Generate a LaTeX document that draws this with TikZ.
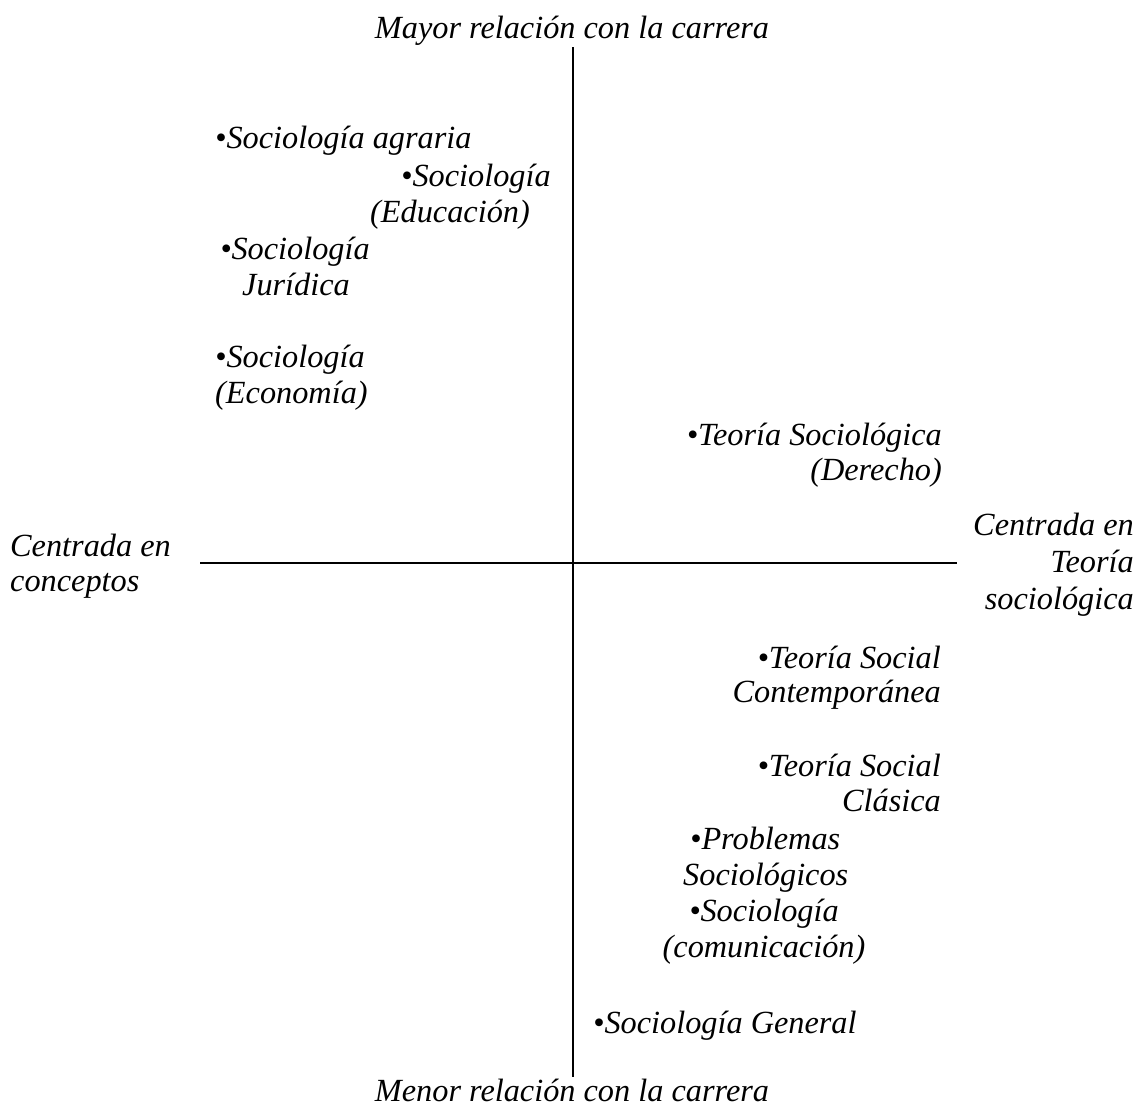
\documentclass[tikz,border=0pt]{standalone}
\usepackage{fontspec}
\setmainfont{Liberation Serif}
\begin{document}
\begin{tikzpicture}[x=1pt,y=-1pt,
  lbl/.style={inner sep=0pt,font=\fontsize{32.3}{38}\selectfont\itshape},
  axis/.style={line width=1.8pt,black}]
\useasboundingbox (0,0) rectangle (1138,1109);
% axes
\coordinate (vtop) at (573,47);
\coordinate (vbot) at (573,1077);
\coordinate (hl) at (200,563);
\coordinate (hr) at (957,563);
\draw[axis] (vtop) -- (vbot);
\draw[axis] (hl) -- (hr);
% axis labels
\node[lbl,anchor=base] (top) at (572,38) {Mayor relación con la carrera};
\node[lbl,anchor=base] (bot) at (572,1101) {Menor relación con la carrera};
\node[lbl,anchor=base west] (left1) at (10,556) {Centrada en};
\node[lbl,anchor=base west] (left2) at (10,591) {conceptos};
\node[lbl,anchor=base east] (right1) at (1134,535) {Centrada en};
\node[lbl,anchor=base east] (right2) at (1134,572) {Teoría};
\node[lbl,anchor=base east] (right3) at (1134,609) {sociológica};
% items
\node[lbl,anchor=base west] (agr) at (215,148) {•Sociología agraria};
\node[lbl,anchor=base west] (edu1) at (401,186) {•Sociología};
\node[lbl,anchor=base west] (edu2) at (370,222) {(Educación)};
\node[lbl,anchor=base] (jur1) at (295,259) {•Sociología};
\node[lbl,anchor=base] (jur2) at (296,295) {Jurídica};
\node[lbl,anchor=base west] (eco1) at (215,367) {•Sociología};
\node[lbl,anchor=base west] (eco2) at (215,403) {(Economía)};
\node[lbl,anchor=base east] (der1) at (942,445) {•Teoría Sociológica};
\node[lbl,anchor=base east] (der2) at (942,480) {(Derecho)};
\node[lbl,anchor=base east] (con1) at (941,668) {•Teoría Social};
\node[lbl,anchor=base east] (con2) at (941,702) {Contemporánea};
\node[lbl,anchor=base east] (cla1) at (941,776) {•Teoría Social};
\node[lbl,anchor=base east] (cla2) at (941,811) {Clásica};
\node[lbl,anchor=base west] (pro1) at (690,849) {•Problemas};
\node[lbl,anchor=base west] (pro2) at (683,885) {Sociológicos};
\node[lbl,anchor=base] (com1) at (764,921) {•Sociología};
\node[lbl,anchor=base] (com2) at (764,957) {(comunicación)};
\node[lbl,anchor=base west] (gen) at (593,1033) {•Sociología General};
\end{tikzpicture}
\end{document}
